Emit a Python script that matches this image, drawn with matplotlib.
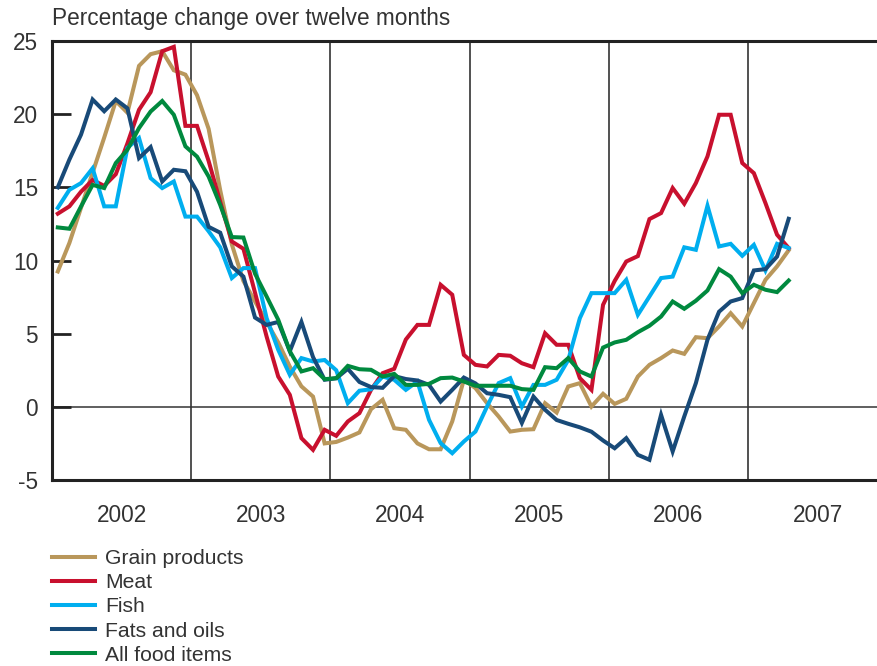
import numpy as np
import matplotlib
matplotlib.use('Agg')
import matplotlib.pyplot as plt

plt.rcParams['font.family'] = ['Liberation Sans', 'DejaVu Sans']
plt.rcParams['axes.unicode_minus'] = False

# monthly data Jan 2002 - Apr 2007, percentage change over twelve months
grain = [9.25, 11.2, 13.6, 16.0, 18.4, 20.9, 20.1, 23.3, 24.1, 24.3,
         23.0, 22.7, 21.3, 19.0, 14.8, 11.1, 8.6, 7.2, 5.8, 4.4,
         2.75, 1.4, 0.7, -2.5, -2.4, -2.1, -1.75, -0.16, 0.48, -1.46,
         -1.57, -2.5, -2.9, -2.9, -1.0, 1.85, 1.28, 0.25, -0.66, -1.69,
         -1.57, -1.53, 0.25, -0.39, 1.39, 1.62, 0.02, 0.89, 0.2, 0.55,
         2.07, 2.87, 3.33, 3.85, 3.62, 4.76, 4.69, 5.49, 6.4, 5.49,
         7.09, 8.68, 9.6, 10.7]
meat = [13.2, 13.7, 14.7, 15.5, 15.1, 15.9, 18.0, 20.3, 21.5, 24.3,
        24.6, 19.2, 19.2, 16.8, 14.0, 11.3, 10.8, 7.8, 4.8, 2.07,
        0.82, -2.14, -2.94, -1.57, -1.98, -1.0, -0.43, 1.16, 2.3, 2.6,
        4.6, 5.6, 5.6, 8.34, 7.66, 3.55, 2.87, 2.76, 3.55, 3.49,
        2.98, 2.71, 5.03, 4.24, 4.24, 1.96, 1.16, 6.97, 8.6, 9.93,
        10.3, 12.83, 13.24, 14.95, 13.88, 15.29, 17.11, 19.96, 19.96, 16.66,
        15.97, 13.92, 11.76, 10.85]
fish = [13.6, 14.83, 15.29, 16.3, 13.7, 13.7, 17.7, 18.37, 15.63, 14.95,
        15.4, 13.0, 13.0, 12.0, 10.9, 8.8, 9.48, 9.48, 6.06, 3.9,
        2.19, 3.33, 3.1, 3.2, 2.5, 0.25, 1.1, 1.2, 2.07, 1.85,
        1.16, 1.73, -0.89, -2.48, -3.17, -2.37, -1.69, 0.02, 1.62, 1.96,
        0.02, 1.5, 1.5, 1.85, 3.2, 6.06, 7.77, 7.77, 7.77, 8.68,
        6.29, 7.54, 8.8, 8.9, 10.9, 10.73, 13.74, 10.96, 11.14, 10.32,
        11.07, 9.32, 11.14, 10.85]
fats = [15.0, 16.9, 18.6, 21.0, 20.2, 21.0, 20.4, 17.0, 17.75, 15.4,
        16.2, 16.1, 14.7, 12.3, 11.9, 9.6, 8.9, 6.1, 5.6, 5.8,
        3.8, 5.8, 3.4, 1.85, 1.95, 2.6, 1.7, 1.35, 1.3, 2.1,
        1.9, 1.8, 1.5, 0.36, 1.16, 2.0, 1.6, 0.93, 0.82, 0.66,
        -1.1, 0.7, -0.2, -0.9, -1.16, -1.4, -1.7, -2.3, -2.83, -2.14,
        -3.28, -3.62, -0.55, -3.05, -0.66, 1.62, 4.58, 6.5, 7.2, 7.43,
        9.32, 9.41, 10.27, 12.85]
allfood = [12.26, 12.17, 13.69, 15.17, 14.95, 16.66, 17.57, 19.05, 20.18, 20.9,
           19.96, 17.8, 17.1, 15.74, 13.8, 11.6, 11.57, 9.1, 7.54, 5.95,
           3.8, 2.42, 2.64, 1.89, 1.96, 2.8, 2.57, 2.53, 2.07, 2.25,
           1.5, 1.5, 1.57, 1.96, 2.0, 1.73, 1.44, 1.44, 1.44, 1.44,
           1.21, 1.16, 2.71, 2.64, 3.33, 2.42, 2.07, 4.05, 4.4, 4.58,
           5.1, 5.54, 6.17, 7.2, 6.7, 7.25, 7.95, 9.41, 8.9, 7.77,
           8.34, 8.0, 7.84, 8.63]

years = ['2002', '2003', '2004', '2005', '2006', '2007']
names = ['Grain products', 'Meat', 'Fish', 'Fats and oils', 'All food items']
colors = ['#B9975B', '#C8102E', '#00AEEF', '#184A78', '#00893E']

x = np.arange(len(grain)) + 0.5

fig = plt.figure(figsize=(8.78, 6.66), dpi=100)
ax = fig.add_axes([52/878, 186/666, 826/878, 439/666])

txt = '#333333'
fs = 16.3
ax.axhline(0, color='#444444', lw=1.2, zorder=1)
for k in range(1, len(years)):
    ax.axvline(12*k, color='#333333', lw=1.2, zorder=1)

lines = []
for vals, name, c in zip([grain, meat, fish, fats, allfood], names, colors):
    l, = ax.plot(x, vals, color=c, lw=2.9, label=name, zorder=3,
                 solid_joinstyle='miter')
    lines.append(l)

ax.set_xlim(0, 71.2)
ax.set_ylim(-5, 25)
ax.set_yticks(range(-5, 26, 5))
ax.set_xticks([12*k + 6 for k in range(len(years))])
ax.set_xticklabels(years)
ax.tick_params(axis='y', direction='in', length=14, width=2, color='#222222',
               labelsize=fs, labelcolor=txt, pad=10)
ax.tick_params(axis='x', length=0, labelsize=fs, labelcolor=txt, pad=17)

for s in ['left', 'top', 'bottom']:
    ax.spines[s].set_linewidth(2.2)
    ax.spines[s].set_color('#222222')
ax.spines['right'].set_visible(False)

fig.text(52/878, 1 - 19/666, 'Percentage change over twelve months',
         fontsize=fs, color=txt, va='center', ha='left')

fig.legend(handles=lines, loc='upper left', bbox_to_anchor=(52/878, 1 - 549/666),
           frameon=False, fontsize=15.2, handlelength=2.04, handletextpad=0.47,
           labelspacing=0.245, borderpad=0, borderaxespad=0, labelcolor=txt)

fig.savefig('out.png', dpi=100)
